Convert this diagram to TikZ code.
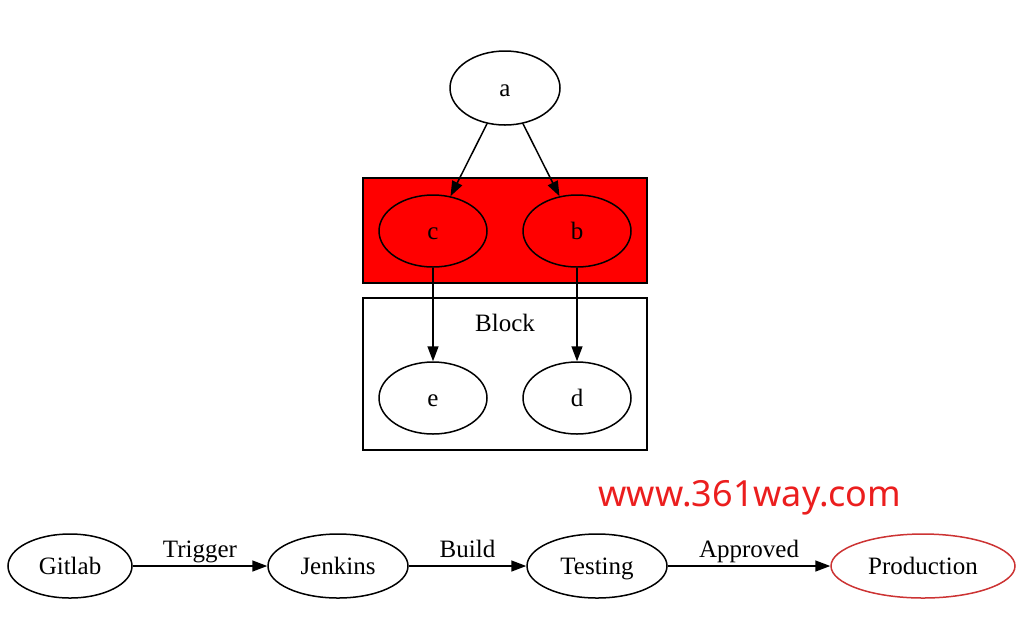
\documentclass[tikz,border=0pt]{standalone}
\usepackage{fontspec}
\setmainfont{Liberation Serif}
\newfontfamily\markfont{Noto Sans}
\usepackage{tikz}
\usetikzlibrary{shapes.geometric}
\usetikzlibrary{arrows.meta}
\definecolor{prodred}{RGB}{204,51,51}
\definecolor{markred}{RGB}{235,30,30}

\begin{document}
\begin{tikzpicture}[x=0.5pt,y=-0.5pt,
  gnode/.style={ellipse,draw,line width=0.75pt,inner sep=0pt,
    minimum width=54pt,minimum height=36pt,text height=9.5pt,text depth=1.5pt,
    font=\fontsize{12.5}{15}\selectfont},
  rednode/.style={gnode,fill=red},
  flownode/.style={gnode,minimum height=32pt},
  edge/.style={-{Triangle[length=7.5pt,width=5.5pt]},line width=0.75pt},
  elabel/.style={above,inner sep=1.5pt,text height=8.5pt,text depth=2.5pt,
    font=\fontsize{12.5}{15}\selectfont},
  cluster/.style={line width=0.75pt}]
  \useasboundingbox (0,0) rectangle (1036,628);
  % clusters
  \draw[cluster,fill=red] (363,178) rectangle (647,283);
  \draw[cluster] (363,298) rectangle (647,450);
  \node[text height=9.5pt,text depth=1.5pt,font=\fontsize{12.5}{15}\selectfont] (blocklabel) at (505,323) {Block};
  % upper graph
  \node[gnode,minimum width=55pt,minimum height=37pt] (a) at (505,88) {a};
  \node[rednode] (c) at (433,231) {c};
  \node[rednode] (b) at (577,231) {b};
  \node[gnode] (e) at (433,398) {e};
  \node[gnode] (d) at (577,398) {d};
  \draw[edge] (a) -- (c);
  \draw[edge] (a) -- (b);
  \draw[edge] (c) -- (e);
  \draw[edge] (b) -- (d);
  % pipeline
  \node[flownode,minimum width=62pt] (gitlab) at (70,566) {Gitlab};
  \node[flownode,minimum width=70pt] (jenkins) at (338,566) {Jenkins};
  \node[flownode,minimum width=70pt] (testing) at (597,566) {Testing};
  \node[flownode,minimum width=92pt,draw=prodred] (production) at (923,566) {Production};
  \draw[edge] (gitlab) -- node[elabel] {Trigger} (jenkins);
  \draw[edge] (jenkins) -- node[elabel] {Build} (testing);
  \draw[edge] (testing) -- node[elabel] {Approved} (production);
  % watermark
  \node[text=markred,font=\markfont\fontsize{18}{21}\selectfont] (mark) at (750,498) {www.361way.com};
\end{tikzpicture}
\end{document}
